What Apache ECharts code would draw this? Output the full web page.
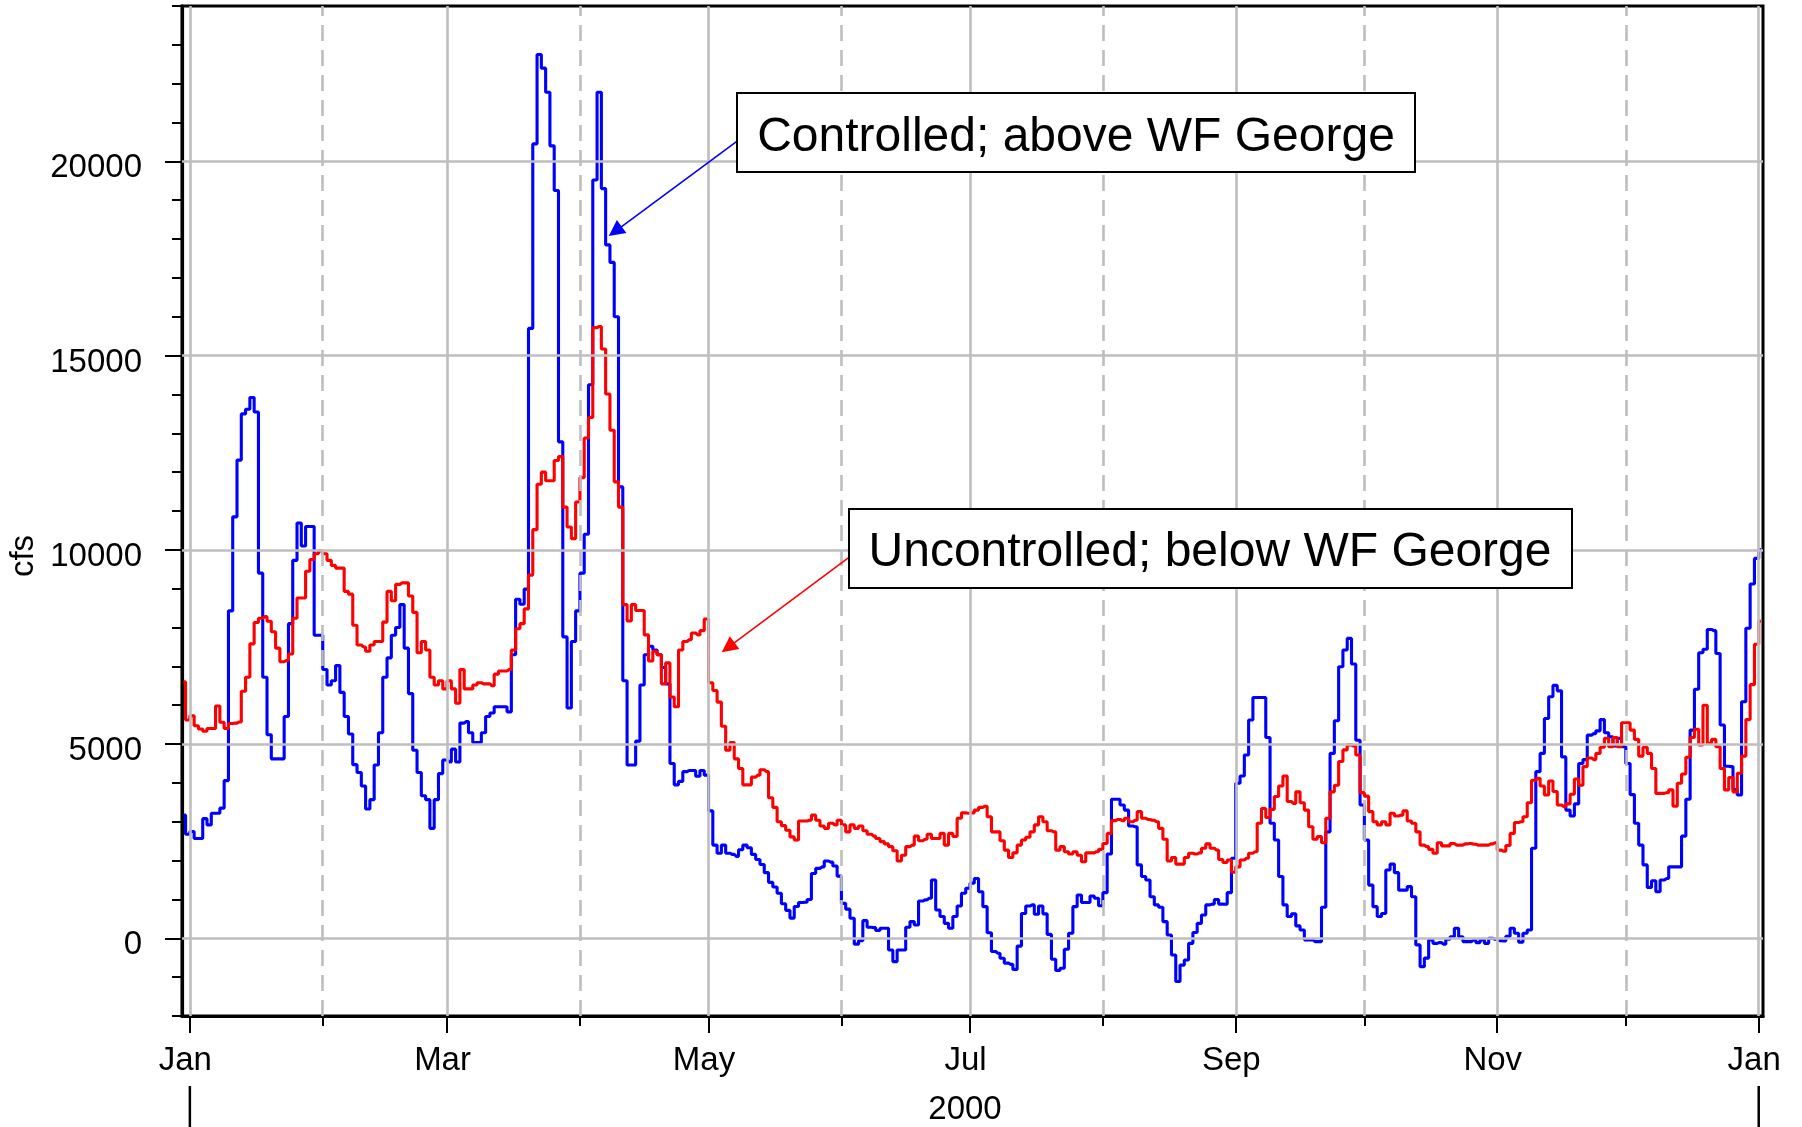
<!DOCTYPE html>
<html>
<head>
<meta charset="utf-8">
<script src="https://cdn.jsdelivr.net/npm/echarts@6/dist/echarts.min.js"></script>
<style>
html,body{margin:0;padding:0;background:#ffffff;}
#chart{width:1802px;height:1127px;}
</style>
</head>
<body>
<div id="chart"></div>
<script>
// ---------------- DATA ----------------
// first daily value is for 30 Dec 1999, one value per day through 1 Jan 2001
const firstDay = [1999, 11, 30];

// Controlled; above WF George (cfs, daily)
const controlled = [
  3170, 2680, 2750, 2570, 2570, 3080, 2920, 3220, 3220, 3350,
  4060, 8430, 10850, 12310, 13500, 13620, 13920, 13550, 9400, 6720,
  5240, 4620, 4620, 4620, 5710, 8100, 9730, 10690, 10100, 10600,
  10600, 7800, 7800, 6920, 6520, 6630, 7020, 6330, 5710, 5260,
  4470, 4270, 3920, 3330, 3570, 4460, 5290, 6720, 7220, 7800,
  8000, 8590, 7470, 6300, 4840, 4270, 3670, 3570, 2830, 3570,
  4240, 4590, 4540, 4870, 4540, 5540, 5580, 5290, 5040, 5040,
  5290, 5710, 5800, 5960, 5960, 5960, 5830, 7300, 8730, 8600,
  8990, 15700, 20450, 22750, 22400, 21780, 20400, 19250, 12780, 7760,
  5930, 7640, 8430, 9400, 10400, 14250, 19520, 21780, 19300, 17850,
  17400, 16000, 11620, 6630, 4460, 4460, 5075, 6520, 7300, 7520,
  7420, 7300, 6970, 6550, 4500, 3950, 4040, 4290, 4320, 4320,
  4170, 4320, 4200, 3280, 2400, 2190, 2400, 2190, 2160, 2110,
  2280, 2400, 2330, 2160, 2030, 1900, 1690, 1440, 1320, 1160,
  890, 720, 520, 820, 920, 930, 1000, 1670, 1800, 1840,
  1990, 1960, 1860, 1600, 900, 750, 515, -150, -60, 455,
  283, 275, 200, 257, 257, -300, -600, -300, -300, 283,
  430, 343, 960, 990, 1030, 1500, 730, 560, 385, 257,
  560, 830, 1160, 1290, 1420, 1540, 1200, 815, 145, -340,
  -385, -515, -640, -670, -800, -200, 640, 830, 860, 620,
  830, 630, 100, -540, -830, -770, -280, 130, 815, 1115,
  920, 920, 1090, 1030, 840, 1175, 2170, 3580, 3580, 3430,
  3300, 2890, 2870, 1890, 1590, 1500, 1070, 860, 800, 430,
  85, -430, -1110, -690, -560, -130, 150, 385, 600, 860,
  880, 1000, 880, 875, 1175, 2060, 3990, 4180, 4720, 5620,
  6200, 6200, 6200, 5170, 2960, 2530, 1590, 860, 560, 630,
  320, 215, -40, -40, -85, -85, 800, 2740, 4760, 5600,
  6990, 7420, 7720, 7060, 5100, 3430, 2530, 1370, 815, 560,
  640, 1760, 1910, 1690, 1240, 1240, 1330, 1070, -170, -730,
  -510, -40, -130, -110, -150, -25, 40, 260, 40, -85,
  -85, -40, -110, -40, -130, 0, -25, -60, -70, 50,
  260, 130, -100, 130, 215, 2320, 4290, 4760, 5660, 6220,
  6510, 6370, 4670, 3300, 3150, 3460, 4500, 4600, 5230, 5270,
  5340, 5630, 5290, 5190, 4950, 5150, 4930, 4500, 3700, 2960,
  2400, 1890, 1310, 1480, 1200, 1500, 1540, 1840, 1840, 1840,
  2630, 3580, 5360, 6410, 7350, 7440, 7950, 7920, 7330, 5490,
  4430, 4420, 3830, 3690, 6090, 7980, 9120, 9780, 10010
];

// Uncontrolled; below WF George (cfs, daily)
const uncontrolled = [
  6600, 5620, 5730, 5470, 5390, 5330, 5400, 5400, 5980, 5560,
  5400, 5530, 5540, 5570, 6360, 6720, 7580, 8130, 8240, 8280,
  8160, 7890, 7470, 7120, 7150, 7320, 8240, 8760, 8760, 9450,
  9750, 9900, 9970, 9900, 9730, 9600, 9530, 9530, 8930, 8860,
  8060, 7550, 7500, 7390, 7550, 7640, 7640, 8140, 8930, 8690,
  9110, 9150, 9150, 8810, 8390, 7350, 7640, 7420, 6720, 6520,
  6630, 6420, 6630, 6420, 6050, 6920, 6420, 6420, 6520, 6580,
  6550, 6550, 6500, 6800, 6880, 6880, 6920, 7420, 7970, 8100,
  8480, 9350, 10520, 11690, 12000, 11780, 11780, 12300, 12400, 11100,
  10590, 10290, 11230, 11860, 12880, 13410, 15720, 15750, 15170, 14010,
  13080, 11750, 11100, 8590, 8170, 8590, 8440, 8440, 7810, 7140,
  7390, 7300, 6550, 7090, 6210, 5960, 7420, 7640, 7690, 7860,
  7810, 7920, 8220, 6580, 6380, 6080, 5460, 4840, 5040, 4620,
  4370, 3950, 3950, 4150, 4200, 4340, 4290, 3620, 3370, 3000,
  2900, 2780, 2610, 2530, 3020, 3020, 3040, 3170, 3040, 2890,
  2830, 2960, 2920, 3040, 2920, 2740, 2920, 2830, 2890, 2770,
  2680, 2630, 2570, 2490, 2430, 2360, 2255, 1990, 2140, 2360,
  2400, 2630, 2510, 2550, 2680, 2570, 2570, 2700, 2400, 2700,
  2620, 3090, 3230, 3220, 3230, 3300, 3370, 3400, 3130, 2740,
  2740, 2510, 2270, 2080, 2200, 2400, 2530, 2600, 2740, 2920,
  3130, 3000, 2770, 2740, 2270, 2360, 2230, 2170, 2230, 2140,
  1970, 2200, 2200, 2230, 2290, 2440, 2700, 3030, 3060, 3030,
  3090, 3000, 3040, 3260, 3090, 3060, 3040, 3000, 2830, 2550,
  1990, 2080, 1910, 1910, 2080, 2190, 2170, 2200, 2320, 2430,
  2320, 2270, 2030, 1950, 2015, 1700, 1840, 2015, 2060, 2190,
  2230, 2960, 3340, 3110, 3320, 3650, 3920, 4180, 3520, 3470,
  3770, 3490, 3300, 2870, 2550, 2620, 2460, 3090, 3770, 3940,
  4550, 4850, 4980, 4950, 4720, 3750, 3660, 3260, 3000, 2920,
  3000, 2920, 3220, 3150, 3170, 3280, 3020, 2960, 2740, 2400,
  2360, 2290, 2190, 2460, 2380, 2380, 2440, 2400, 2400, 2430,
  2440, 2420, 2400, 2400, 2400, 2430, 2460, 2270, 2240, 2390,
  2700, 2980, 3000, 3130, 3490, 4070, 4120, 3920, 3690, 4050,
  3780, 3430, 3390, 3460, 3710, 4100, 3940, 4420, 4640, 4600,
  4760, 4920, 5150, 4930, 5170, 4930, 5550, 5550, 5360, 5120,
  4690, 4920, 4760, 4370, 3730, 3730, 3750, 3820, 3400, 3990,
  4230, 4660, 5170, 5380, 4980, 6000, 5020, 5120, 4930, 4370,
  3820, 4140, 3770, 4250, 4690, 5630, 6530, 7570, 8160
];

const seriesNames = ['Controlled; above WF George', 'Uncontrolled; below WF George'];
const monthNames = ['Jan','Feb','Mar','Apr','May','Jun','Jul','Aug','Sep','Oct','Nov','Dec'];
const labeledMonths = [[2000,0],[2000,2],[2000,4],[2000,6],[2000,8],[2000,10],[2001,0]];
const unlabeledMonths = [[2000,1],[2000,3],[2000,5],[2000,7],[2000,9],[2000,11]];
const yLabelValues = [0, 5000, 10000, 15000, 20000];
const yearLabel = '2000';
const yAxisTitle = 'cfs';
// annotation arrows: [tail date, tail cfs] -> [head date, head cfs]
const arrowTails = [[[2000,4,7,16,20], 20520], [[2000,5,2,16,20], 9800]];
const arrowHeads = [[[2000,3,9,5,30], 18200], [[2000,4,5,14,0], 7490]];

// ---------------- CHART ----------------
const FONT = '"Liberation Sans", Arial, sans-serif';
const BLUE = '#0000ff', RED = '#ff0000', GRID = '#bebebe';
const tOf = a => new Date(a[0], a[1], a[2] || 1, a[3] || 0, a[4] || 0).getTime();
const dayMid = i => new Date(firstDay[0], firstDay[1], firstDay[2] + i, 12).getTime();

const blueData = controlled.map((v, i) => [dayMid(i), v]);
const redData = uncontrolled.map((v, i) => [dayMid(i), v]);

const xMin = new Date(1999, 11, 30, 4).getTime();
const xMax = new Date(2001, 0, 2).getTime();
const majorT = labeledMonths.map(tOf);
const minorT = unlabeledMonths.map(tOf);

const gridLines = [];
yLabelValues.forEach(v => gridLines.push({yAxis: v, lineStyle: {color: GRID, width: 2.6, type: 'solid'}}));
majorT.forEach(t => gridLines.push({xAxis: t, lineStyle: {color: GRID, width: 2.6, type: 'solid'}}));
minorT.forEach(t => gridLines.push({xAxis: t, lineStyle: {color: GRID, width: 2.6, type: [16, 9]}}));

function arrowLine(k, color) {
  return {
    silent: true, animation: false,
    label: {show: false},
    lineStyle: {color: color, width: 1.6, type: 'solid'},
    data: [[
      {coord: [tOf(arrowTails[k][0]), arrowTails[k][1]], symbol: 'none'},
      {coord: [tOf(arrowHeads[k][0]), arrowHeads[k][1]], symbol: 'triangle', symbolSize: 16}
    ]]
  };
}

const chart = echarts.init(document.getElementById('chart'), null, {renderer: 'canvas', width: 1802, height: 1127});

const option = {
  animation: false,
  backgroundColor: '#ffffff',
  grid: {left: 182, right: 39, top: 6, bottom: 111, show: true, borderColor: '#000', borderWidth: 3, backgroundColor: 'rgba(0,0,0,0)'},
  xAxis: [
    {
      type: 'value', min: xMin, max: xMax, position: 'bottom',
      axisLine: {show: true, onZero: false, lineStyle: {color: '#000', width: 3.2}},
      axisTick: {show: true, customValues: majorT, length: 17, lineStyle: {color: '#000', width: 2}},
      axisLabel: {show: true, customValues: majorT, formatter: v => monthNames[new Date(v).getMonth()],
        fontFamily: FONT, fontSize: 33, color: '#000', margin: 28, padding: [0, 9, 0, 0], hideOverlap: false},
      splitLine: {show: false}
    },
    {
      type: 'value', min: xMin, max: xMax, position: 'bottom',
      axisLine: {show: false, onZero: false},
      axisTick: {show: true, customValues: minorT, length: 10, lineStyle: {color: '#000', width: 2}},
      axisLabel: {show: false},
      splitLine: {show: false}
    }
  ],
  yAxis: [
    {
      type: 'value', min: -2000, max: 24000, interval: 1000, position: 'left',
      axisLine: {show: true, onZero: false, lineStyle: {color: '#000', width: 3.2}},
      axisTick: {show: true, length: 10, lineStyle: {color: '#000', width: 2}},
      axisLabel: {show: false},
      splitLine: {show: false}
    },
    {
      type: 'value', min: -2000, max: 24000, position: 'left',
      axisLine: {show: false, onZero: false},
      axisTick: {show: true, customValues: yLabelValues, length: 17, lineStyle: {color: '#000', width: 2}},
      axisLabel: {show: true, customValues: yLabelValues, formatter: v => String(v),
        fontFamily: FONT, fontSize: 33, color: '#000', margin: 40, verticalAlign: 'top', lineHeight: 14},
      splitLine: {show: false}
    }
  ],
  series: [
    {
      name: 'grid', type: 'line', data: [], xAxisIndex: 0, yAxisIndex: 0, z: 1, silent: true,
      markLine: {silent: true, animation: false, symbol: 'none', label: {show: false}, data: gridLines}
    },
    {
      name: seriesNames[0], type: 'line', data: blueData, step: 'middle', showSymbol: false, z: 3,
      xAxisIndex: 0, yAxisIndex: 0,
      lineStyle: {color: BLUE, width: 3.1}, itemStyle: {color: BLUE},
      markLine: arrowLine(0, BLUE)
    },
    {
      name: seriesNames[1], type: 'line', data: redData, step: 'middle', showSymbol: false, z: 4,
      xAxisIndex: 0, yAxisIndex: 0,
      lineStyle: {color: RED, width: 3.1}, itemStyle: {color: RED},
      markLine: arrowLine(1, RED)
    }
  ]
};
chart.setOption(option);

// annotations and year bracket, placed via the chart's own scales where they relate to data
const xJan00 = chart.convertToPixel({xAxisIndex: 0}, majorT[0]);
const xJan01 = chart.convertToPixel({xAxisIndex: 0}, majorT[majorT.length - 1]);
chart.setOption({
  graphic: [
    {type: 'rect', z: 100, shape: {x: 737, y: 93, width: 678, height: 79}, style: {fill: '#fff', stroke: '#000', lineWidth: 2}},
    {type: 'text', z: 101, x: 1076, y: 138, style: {text: seriesNames[0], font: '48px ' + FONT, fill: '#000', textAlign: 'center', textVerticalAlign: 'middle'}},
    {type: 'rect', z: 100, shape: {x: 849, y: 509, width: 723, height: 79}, style: {fill: '#fff', stroke: '#000', lineWidth: 2}},
    {type: 'text', z: 101, x: 1210, y: 553, style: {text: seriesNames[1], font: '48px ' + FONT, fill: '#000', textAlign: 'center', textVerticalAlign: 'middle'}},
    {type: 'line', z: 100, shape: {x1: xJan00, y1: 1086, x2: xJan00, y2: 1127}, style: {stroke: '#000', lineWidth: 2.5}},
    {type: 'line', z: 100, shape: {x1: xJan01, y1: 1086, x2: xJan01, y2: 1127}, style: {stroke: '#000', lineWidth: 2.5}},
    {type: 'text', z: 101, x: 965, y: 1110, style: {text: yearLabel, font: '33px ' + FONT, fill: '#000', textAlign: 'center', textVerticalAlign: 'middle'}},
    {type: 'text', z: 101, x: 24, y: 556, rotation: Math.PI / 2, style: {text: yAxisTitle, font: '33px ' + FONT, fill: '#000', textAlign: 'center', textVerticalAlign: 'middle'}}
  ]
});
</script>
</body>
</html>
